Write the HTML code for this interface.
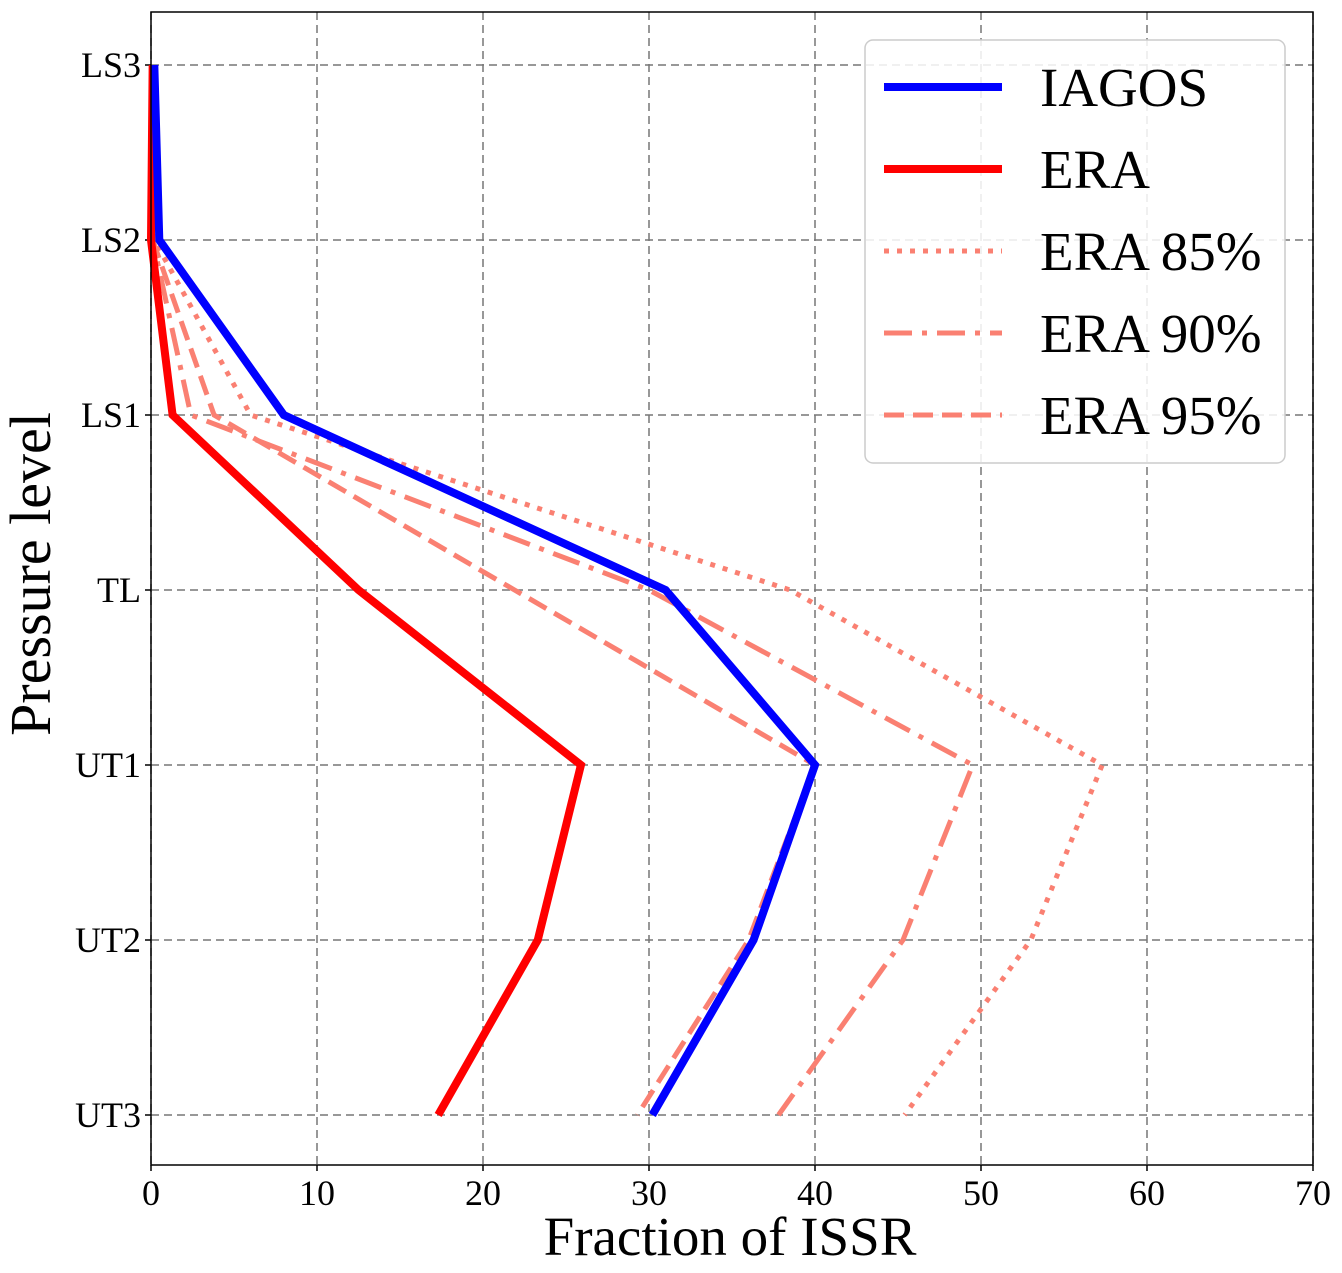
<!DOCTYPE html>
<html><head><meta charset="utf-8"><style>
body{margin:0;background:#fff}
svg text{font-family:"Liberation Serif",serif;fill:#000}
</style></head><body>
<svg id="chart" width="1342" height="1268" xmlns="http://www.w3.org/2000/svg"></svg>
<script>
const levels=["LS3","LS2","LS1","TL","UT1","UT2","UT3"];
const xTicks=[0,10,20,30,40,50,60,70];
const iagos=[0.2,0.5,8,31,40,36.3,30.2];
const era=[0.1,0.0,1.3,12.5,25.9,23.3,17.3];
const era85=[0.1,0.2,6,38.5,57.3,53,45.4];
const era90=[0.1,0.1,2.4,30,49.5,45.3,37.8];
const era95=[0.1,0.1,3.8,21.9,40,36,29.3];
const L=151,R=1313,T=12,B=1165;
const xs=v=>L+(v/70)*(R-L);
const ys=i=>65+i*175;
const svg=document.getElementById('chart');
const NS="http://www.w3.org/2000/svg";
function mk(tag,attrs,parent){const e=document.createElementNS(NS,tag);for(const k in attrs)e.setAttribute(k,attrs[k]);(parent||svg).appendChild(e);return e;}
xTicks.forEach(t=>{const g=mk('line',{x1:xs(t),x2:xs(t),y1:T,y2:B,stroke:'#777','stroke-width':1.5,'stroke-dasharray':'8,5'});


const tx=mk('text',{x:xs(t),y:B+40,'text-anchor':'middle','font-size':36});tx.textContent=t;


mk('line',{x1:xs(t),x2:xs(t),y1:B,y2:B+6,stroke:'#000','stroke-width':1.5});});
levels.forEach((l,i)=>{const g=mk('line',{x1:L,x2:R,y1:ys(i),y2:ys(i),stroke:'#777','stroke-width':1.5,'stroke-dasharray':'8,5'});


const tx=mk('text',{x:L-10,y:ys(i)+12,'text-anchor':'end','font-size':36});tx.textContent=l;


mk('line',{x1:L-6,x2:L,y1:ys(i),y2:ys(i),stroke:'#000','stroke-width':1.5});});
function series(d,color,w,dash,name){const p=mk('polyline',{points:d.map((v,i)=>xs(v)+','+ys(i)).join(' '),fill:'none',stroke:color,'stroke-width':w,'stroke-dasharray':dash||'none','stroke-linejoin':'miter'});

}
series(era85,'#fa8072',5,'5,8','line-era-85');
series(era90,'#fa8072',5,'28,10,5,10','line-era-90');
series(era95,'#fa8072',5,'20,9','line-era-95');
series(era,'#ff0000',8,null,'line-era');
series(iagos,'#0000ff',8,null,'line-iagos');
const fr=mk('rect',{x:L,y:T,width:R-L,height:B-T,fill:'none',stroke:'#000','stroke-width':1.5});


const lg=mk('g',{});


mk('rect',{x:865,y:40,width:420,height:423,rx:8,fill:'#fff','fill-opacity':0.85,stroke:'#ccc','stroke-width':1.5},lg);
const ents=[["IAGOS",'#0000ff',8,null],["ERA",'#ff0000',8,null],["ERA 85%",'#fa8072',5,'5,8'],["ERA 90%",'#fa8072',5,'28,10,5,10'],["ERA 95%",'#fa8072',5,'20,9']];
ents.forEach((e,i)=>{const y=87+i*82;
const g=mk('g',{},lg);


mk('line',{x1:884,x2:1002,y1:y,y2:y,stroke:e[1],'stroke-width':e[2],'stroke-dasharray':e[3]||'none'},g);
const t=mk('text',{x:1040,y:y+19,'font-size':55},g);t.textContent=e[0];});
const xl=mk('text',{x:730,y:1255,'text-anchor':'middle','font-size':55});xl.textContent="Fraction of ISSR";


const yl=mk('text',{x:0,y:0,'text-anchor':'middle','font-size':58,transform:'translate(50,574) rotate(-90)'});yl.textContent="Pressure level";


</script>
</body></html>
